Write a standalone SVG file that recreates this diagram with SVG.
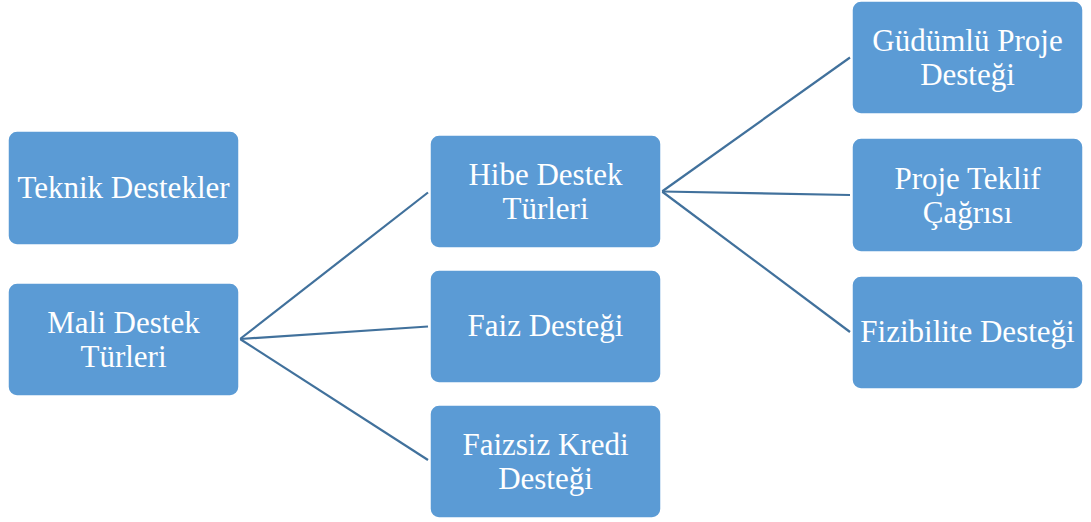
<svg xmlns="http://www.w3.org/2000/svg" width="1091" height="522" viewBox="0 0 1091 522">
<style>
.box{fill:#5B9BD5;stroke:#ffffff;stroke-width:1.5}
.lbl{font-family:"Liberation Serif","Times New Roman",serif;font-size:31px;fill:#ffffff;text-anchor:middle}
.edge{stroke:#41719C;stroke-width:2.2;fill:none}
</style>
<rect width="1091" height="522" fill="#ffffff"/>
<g id="connectors">
<path class="edge" d="M240 339 L428 192.5"/>
<path class="edge" d="M240 339 L428 326.5"/>
<path class="edge" d="M240 339 L428 460"/>
<path class="edge" d="M662 191.5 L850 57.5"/>
<path class="edge" d="M662 191.5 L850 195"/>
<path class="edge" d="M662 191.5 L850 332"/>
</g>
<g id="teknik"><rect class="box" x="8" y="131" width="231" height="114" rx="9"/><text class="lbl" x="123.5" y="197.5">Teknik Destekler</text></g>
<g id="mali"><rect class="box" x="8" y="283" width="231" height="113" rx="9"/><text class="lbl" x="123.5" y="332.5">Mali Destek</text><text class="lbl" x="123.5" y="366.5">Türleri</text></g>
<g id="hibe"><rect class="box" x="430" y="135" width="231" height="113" rx="9"/><text class="lbl" x="545.5" y="184.5">Hibe Destek</text><text class="lbl" x="545.5" y="218.5">Türleri</text></g>
<g id="faiz"><rect class="box" x="430" y="270" width="231" height="113" rx="9"/><text class="lbl" x="545.5" y="336">Faiz Desteği</text></g>
<g id="faizsiz"><rect class="box" x="430" y="405" width="231" height="113" rx="9"/><text class="lbl" x="545.5" y="454.5">Faizsiz Kredi</text><text class="lbl" x="545.5" y="488.5">Desteği</text></g>
<g id="gudumlu"><rect class="box" x="852" y="1" width="231" height="113" rx="9"/><text class="lbl" x="967.5" y="50.5">Güdümlü Proje</text><text class="lbl" x="967.5" y="84.5">Desteği</text></g>
<g id="teklif"><rect class="box" x="852" y="138" width="231" height="114" rx="9"/><text class="lbl" x="967.5" y="188.5">Proje Teklif</text><text class="lbl" x="967.5" y="222.5">Çağrısı</text></g>
<g id="fizibilite"><rect class="box" x="852" y="276" width="231" height="113" rx="9"/><text class="lbl" x="967.5" y="342">Fizibilite Desteği</text></g>
</svg>
